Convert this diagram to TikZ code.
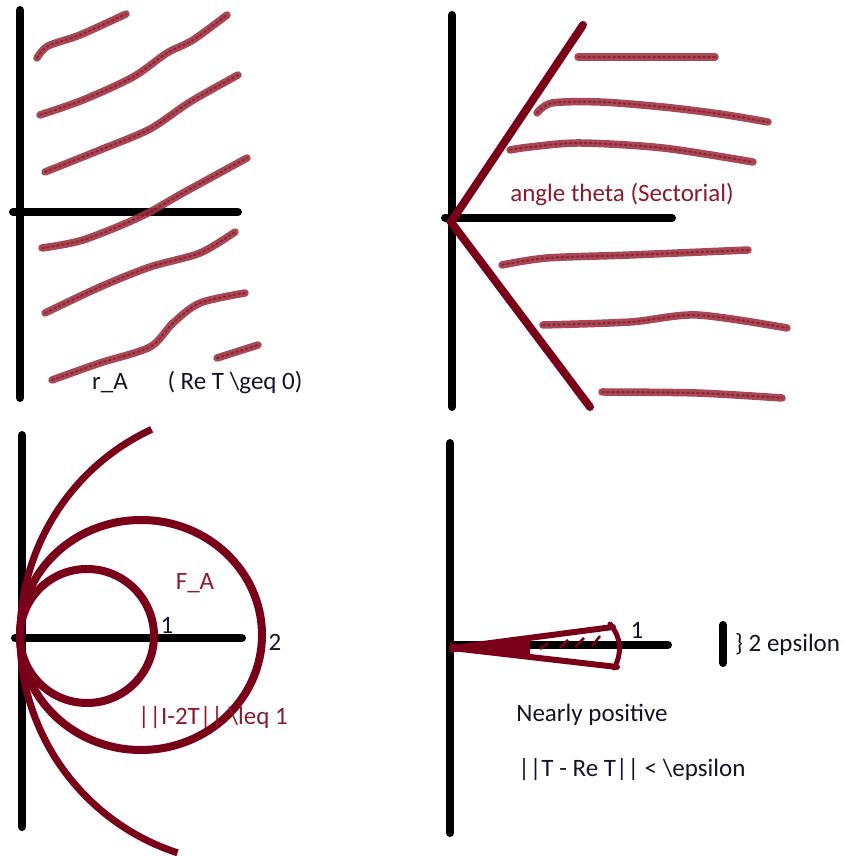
\documentclass[tikz,border=0pt]{standalone}
\usepackage{fontspec}
\setmainfont{Carlito}
\usepackage{tikz}
\usetikzlibrary{arrows.meta, positioning}

\definecolor{inkred}{RGB}{122,0,25}
\definecolor{brushred}{RGB}{158,52,66}
\definecolor{textred}{RGB}{140,26,45}
\definecolor{textdark}{RGB}{20,20,40}

\begin{document}
\begin{tikzpicture}[
    x=1pt, y=1pt,
    axis/.style={line width=8pt, black, line cap=round},
    ray/.style={line width=8pt, inkred, line cap=round},
    ring/.style={line width=8pt, inkred},
    brush/.style={line width=7.5pt, brushred, line cap=round, opacity=0.9,
        postaction={draw, inkred, line width=2pt, dash pattern=on 2pt off 3pt, opacity=0.5}},
    lbl/.style={font=\fontsize{25}{29}\selectfont, text=textdark, inner sep=0pt},
    redlbl/.style={font=\fontsize{25}{29}\selectfont, text=textred, inner sep=0pt}
]
\useasboundingbox (0,0) rectangle (843,856);

% top left: right half plane
\draw[axis] (20,846) -- (20,458);
\draw[axis] (13,644) -- (238,644);
\draw[brush] plot[smooth] coordinates {(37,798) (48,810) (80,821) (126,842)};
\draw[brush] plot[smooth] coordinates {(40,741) (83,756) (133,779) (167,803) (193,816) (227,841)};
\draw[brush] plot[smooth] coordinates {(45,684) (100,706) (150,727) (190,754) (238,781)};
\draw[brush] plot[smooth] coordinates {(42,608) (83,616) (140,639) (183,663) (247,698)};
\draw[brush] plot[smooth] coordinates {(45,543) (100,569) (150,589) (200,603) (235,624)};
\draw[brush] plot[smooth] coordinates {(52,476) (100,493) (150,509) (173,533) (200,553) (245,563)};
\draw[brush] (217,498) -- (258,511);
\node[lbl] (rA) at (110,473) {r\_A};
\node[lbl] (reT) at (235,473) {( Re T  \textbackslash geq 0)};

% top right: sector
\draw[axis] (452,841) -- (452,449);
\draw[axis] (445,638) -- (672,638);
\coordinate (v) at (451,634);
\coordinate (up) at (583,831);
\coordinate (dn) at (590,449);
\draw[ray] (up) -- (v) -- (dn);
\draw[brush] (578,799) -- (715,799);
\draw[brush] plot[smooth] coordinates {(537,743) (552,753) (600,754) (663,749) (720,742) (768,734)};
\draw[brush] plot[smooth] coordinates {(510,706) (530,709) (580,713) (663,708) (753,694)};
\draw[brush] plot[smooth] coordinates {(502,591) (547,598) (630,601) (748,606)};
\draw[brush] plot[smooth] coordinates {(543,531) (630,534) (697,541) (787,528)};
\draw[brush] plot[smooth] coordinates {(602,464) (697,463) (782,458)};
\node[redlbl] (theta) at (622,661) {angle theta (Sectorial)};

% bottom left: numerical range discs
\draw[axis] (22,421) -- (22,29);
\draw[axis] (15,218) -- (242,218);
\draw[ring] (87,220) circle [radius=67];
\draw[ring] (141,221) ellipse [x radius=121, y radius=115];
\draw[ring, line width=7pt] (248,220) ++(115:228) arc[start angle=115, end angle=252, radius=228];
\node[redlbl] (FA) at (195,273) {F\_A};
\node[lbl] (one) at (167,231) {1};
\node[lbl] (two) at (275,214) {2};
\node[redlbl] (norm) at (213,138) {||I-2T|| \textbackslash leq 1};

% bottom right: nearly positive
\draw[axis] (450,413) -- (450,23);
\draw[axis] (450,211) -- (668,211);
\fill[inkred] (450,203) -- (530,218) -- (530,200) -- (450,213) -- cycle;
\draw[ray, line width=6pt] (452,208) -- (613,229);
\draw[ray, line width=6pt] (452,208) -- (617,189);
\draw[ray, line width=5pt] (610,232) to[bend left=35] (614,188);
\draw[inkred, line width=2.5pt]
    (500,209) -- (512,210)
    (540,207) -- (548,213)
    (560,208) -- (568,216)
    (575,209) -- (584,218)
    (592,210) -- (600,220);
\node[lbl] (tip) at (637,226) {1};
\coordinate (bartop) at (723,231);
\coordinate (barmid) at (723,212);
\coordinate (barbot) at (723,193);
\draw[axis] (bartop) -- (barbot);
\node[lbl, right=12pt of barmid] (eps) {\} 2 epsilon};
\node[lbl] (nearly) at (592,141) {Nearly positive};
\node[lbl] (diff) at (632,86) {||T - Re T|| < \textbackslash epsilon};

\end{tikzpicture}
\end{document}
